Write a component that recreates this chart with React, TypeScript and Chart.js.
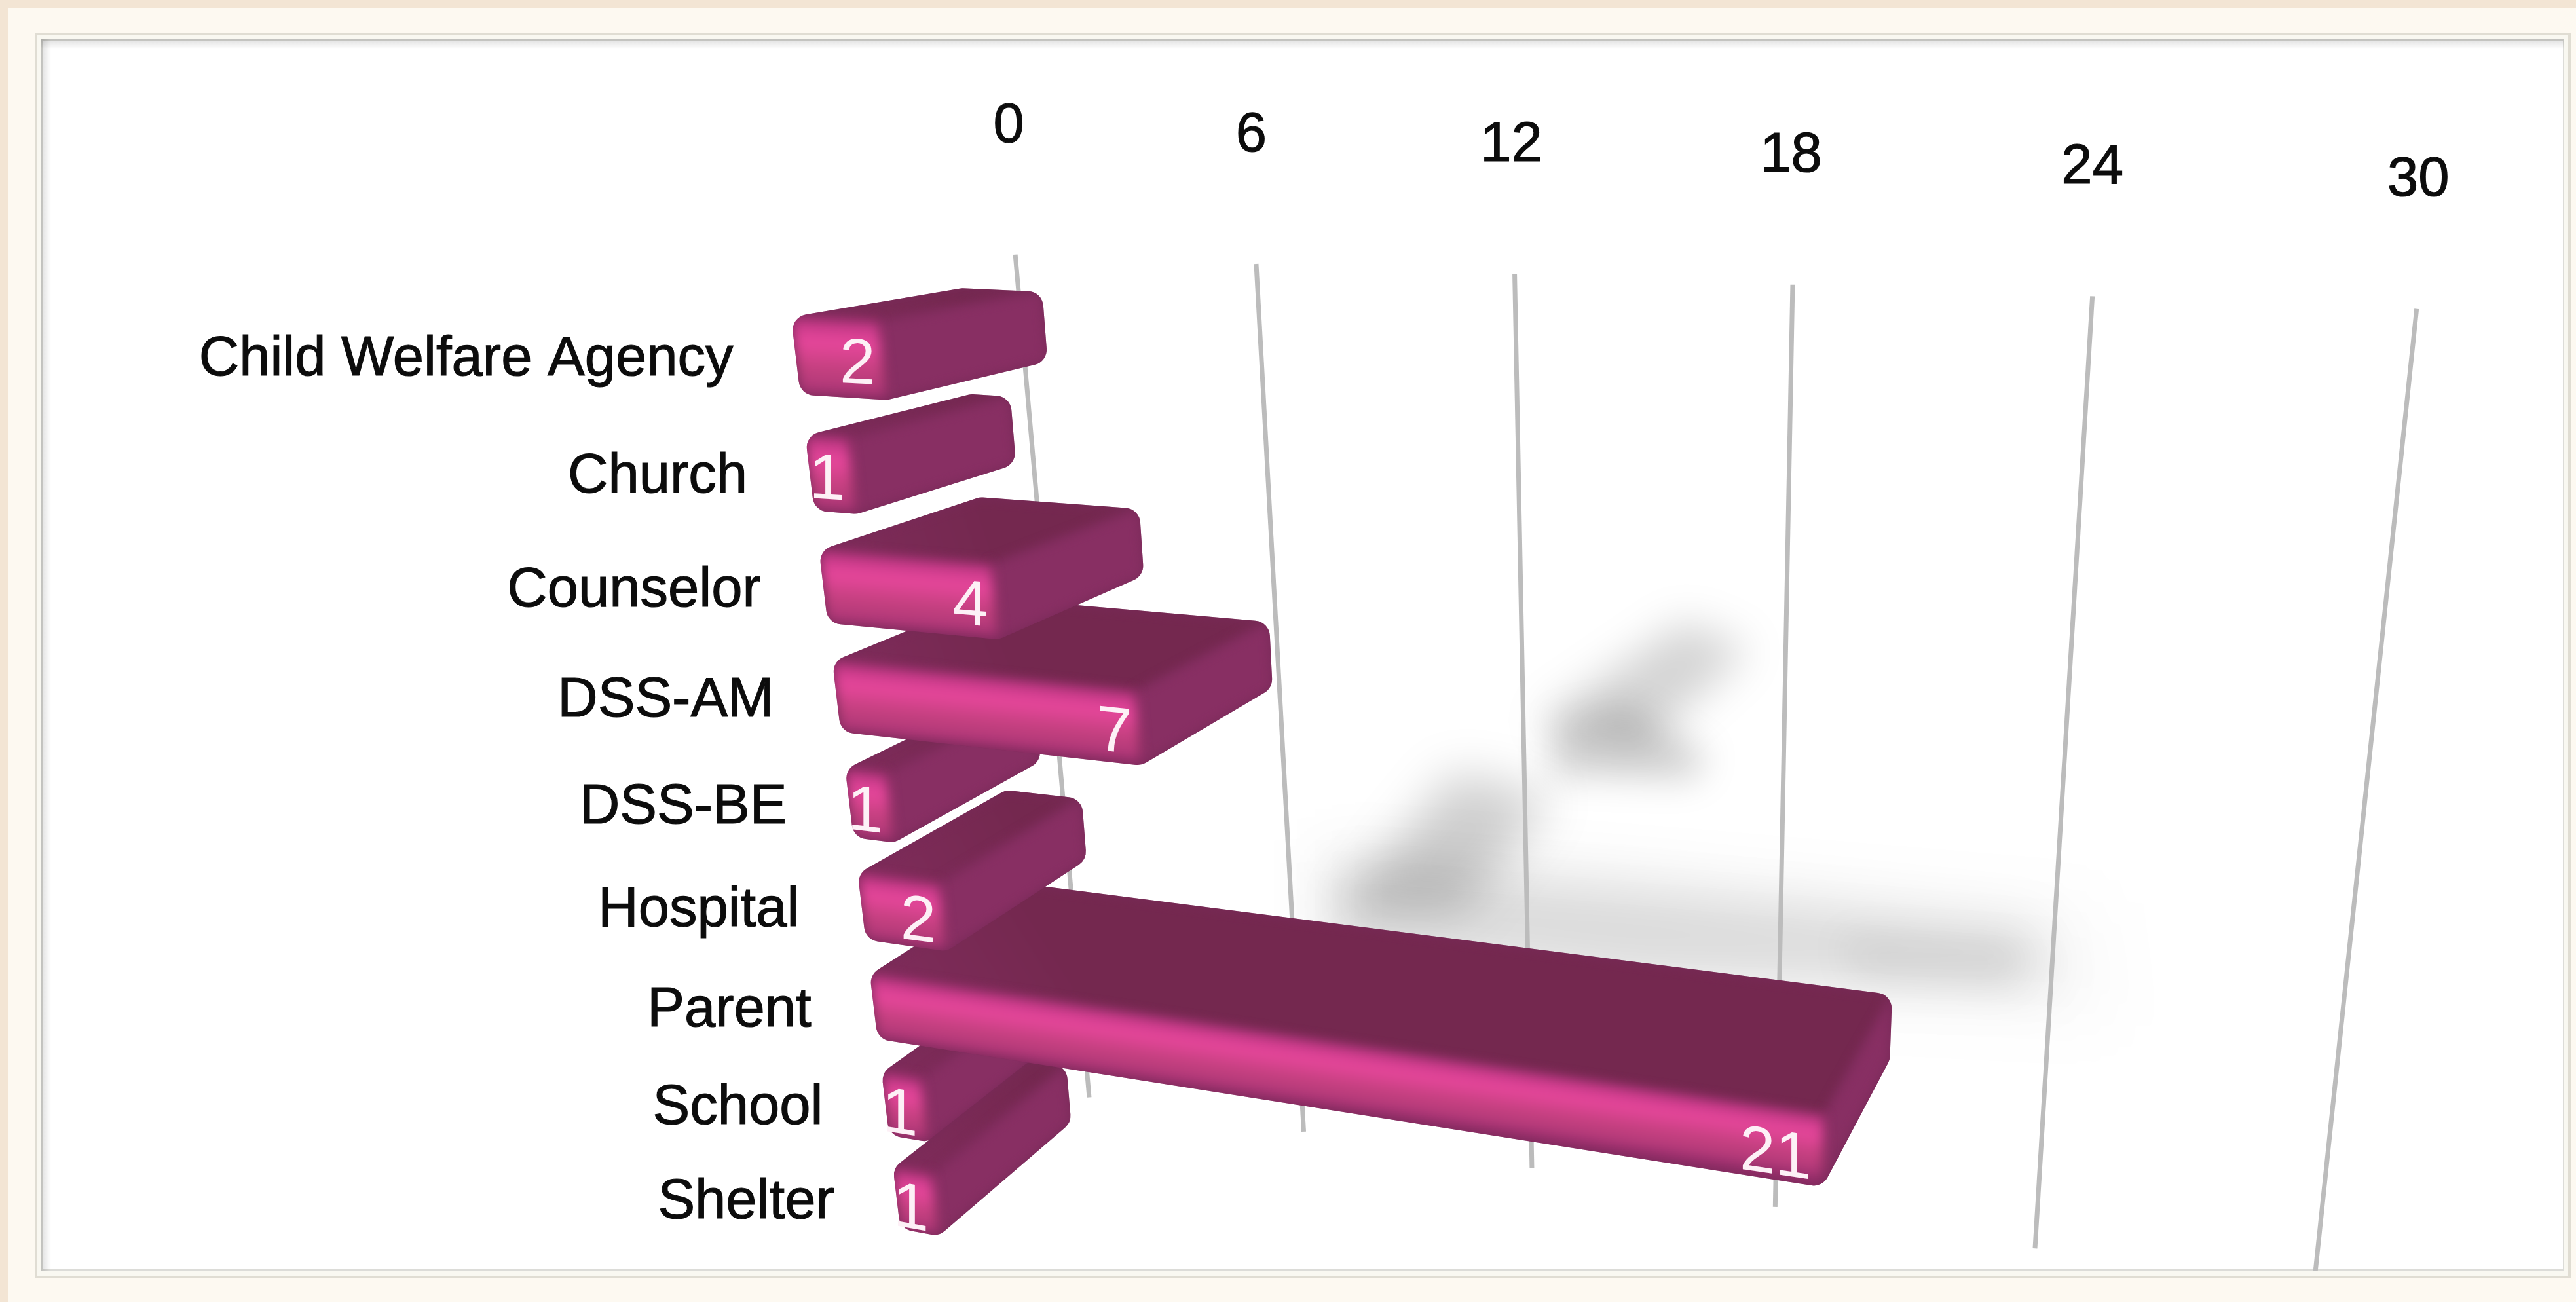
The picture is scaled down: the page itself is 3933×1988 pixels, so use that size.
import React, { useEffect, useRef } from "react";
import { Chart, registerables } from "chart.js";

Chart.register(...registerables);

const categories = ["Child Welfare Agency", "Church", "Counselor", "DSS-AM", "DSS-BE", "Hospital", "Parent", "School", "Shelter"];
const referrals = [2, 1, 4, 7, 1, 2, 21, 1, 1];
const axisMax = 30;
const axisStep = 6;
const paintOrder = [7, 8, 6, 5, 4, 3, 2, 1, 0];

const W = 3933;
const H = 1988;
const S = W / 1568;
type P = { x: number; y: number };
const pt = (x: number, y: number): P => ({ x: x * S, y: y * S });

function quadMap(p0: P, p1: P, p2: P, p3: P) {
  const dx1 = p1.x - p2.x, dx2 = p3.x - p2.x, sx = p0.x - p1.x + p2.x - p3.x;
  const dy1 = p1.y - p2.y, dy2 = p3.y - p2.y, sy = p0.y - p1.y + p2.y - p3.y;
  const den = dx1 * dy2 - dx2 * dy1;
  const g = (sx * dy2 - dx2 * sy) / den;
  const h = (dx1 * sy - sx * dy1) / den;
  const a = p1.x - p0.x + g * p1.x, b = p3.x - p0.x + h * p3.x;
  const d = p1.y - p0.y + g * p1.y, e = p3.y - p0.y + h * p3.y;
  return (u: number, w: number): P => {
    const q = g * u + h * w + 1;
    return { x: (a * u + b * w + p0.x) / q, y: (d * u + e * w + p0.y) / q };
  };
}

// Perspective of the back wall (gridlines) and of the bars' front plane
const wallMap = quadMap(pt(618, 155), pt(1471, 188), pt(1408, 787), pt(663, 668));
const frontMap = quadMap(pt(481.5, 193), pt(1122, 225), pt(1106, 851), pt(548, 748));
const depthVanish = pt(1390, 40);

function toBack(p: P): P {
  const dx = p.x / S, dy = p.y / S;
  const t = 0.115 - (0.02 * (dy - 190)) / 560 + (dx - 500) * 2.9e-5;
  return {
    x: p.x + t * (depthVanish.x - p.x) + (dx - 500) * 0.015 * S,
    y: p.y + t * (depthVanish.y - p.y),
  };
}

function poly(ctx: CanvasRenderingContext2D, pts: P[]) {
  ctx.beginPath();
  pts.forEach((p, i) => (i ? ctx.lineTo(p.x, p.y) : ctx.moveTo(p.x, p.y)));
  ctx.closePath();
}

function roundedPoly(ctx: CanvasRenderingContext2D, pts: P[], r: number) {
  const n = pts.length;
  const m = (a: P, b: P) => ({ x: (a.x + b.x) / 2, y: (a.y + b.y) / 2 });
  const s = m(pts[n - 1], pts[0]);
  ctx.beginPath();
  ctx.moveTo(s.x, s.y);
  pts.forEach((p, i) => {
    const nx = pts[(i + 1) % n];
    const mid = m(p, nx);
    ctx.arcTo(p.x, p.y, mid.x, mid.y, r);
  });
  ctx.closePath();
}

function drawFrame(ctx: CanvasRenderingContext2D) {
  ctx.fillStyle = "#f3e5d4";
  ctx.fillRect(0, 0, W, H);
  ctx.fillStyle = "#fdf9f1";
  ctx.fillRect(12, 12, W - 12, H - 12);
  ctx.fillStyle = "#e0ddd3";
  ctx.fillRect(53, 50, 3872, 1902);
  ctx.fillStyle = "#f9f8f1";
  ctx.fillRect(57, 54, 3864, 1894);
  ctx.fillStyle = "#dcdcd8";
  ctx.fillRect(63, 60, 3852, 1880);
  ctx.fillStyle = "#ffffff";
  ctx.fillRect(66, 63, 3847, 1875);
  let g = ctx.createLinearGradient(63, 0, 78, 0);
  g.addColorStop(0, "rgba(0,0,0,0.12)");
  g.addColorStop(1, "rgba(0,0,0,0)");
  ctx.fillStyle = g;
  ctx.fillRect(63, 60, 15, 1880);
  g = ctx.createLinearGradient(0, 60, 0, 75);
  g.addColorStop(0, "rgba(0,0,0,0.12)");
  g.addColorStop(1, "rgba(0,0,0,0)");
  ctx.fillStyle = g;
  ctx.fillRect(63, 60, 3852, 15);
}

function drawShadows(ctx: CanvasRenderingContext2D) {
  ctx.save();
  const blob = (pts: number[][], alpha: number, blur: number) => {
    ctx.filter = `blur(${blur}px)`;
    ctx.fillStyle = `rgba(0,0,0,${alpha})`;
    poly(ctx, pts.map(([x, y]) => pt(x, y)));
    ctx.fill();
  };
  blob([[800, 510], [1280, 550], [1290, 625], [800, 600]], 0.02, 50);
  blob([[1025, 378], [1065, 395], [1000, 455], [935, 440]], 0.17, 32);
  blob([[945, 440], [990, 430], [1040, 460], [1030, 475], [945, 472]], 0.17, 26);
  blob([[885, 470], [945, 485], [890, 555], [815, 555]], 0.19, 36);
  blob([[810, 525], [1000, 540], [1240, 565], [1250, 600], [1000, 595], [810, 575]], 0.12, 40);
  blob([[1120, 570], [1230, 575], [1225, 600], [1130, 595]], 0.06, 28);
  ctx.restore();
}

function faceGradient(ctx: CanvasRenderingContext2D, ftl: P, ftr: P, fbl: P) {
  const ex = ftr.x - ftl.x, ey = ftr.y - ftl.y;
  const len = Math.hypot(ex, ey) || 1;
  const nx = -ey / len, ny = ex / len;
  const dot = (fbl.x - ftl.x) * nx + (fbl.y - ftl.y) * ny;
  const g = ctx.createLinearGradient(ftl.x, ftl.y, ftl.x + nx * dot, ftl.y + ny * dot);
  g.addColorStop(0, "#b8347f");
  g.addColorStop(0.3, "#e8479c");
  g.addColorStop(0.65, "#c4407f");
  g.addColorStop(0.92, "#b03878");
  g.addColorStop(1, "#8f2b66");
  return g;
}

const perspectivePlugin = {
  id: "perspective3d",
  beforeDraw(chart: any) {
    drawFrame(chart.ctx);
  },
  beforeDatasetsDraw(chart: any) {
    const ctx: CanvasRenderingContext2D = chart.ctx;
    const xs = chart.scales.x;
    const meta = chart.getDatasetMeta(0);
    const els = meta.data.map((e: any) => e.getProps(["x", "y", "base", "height"], true));

    const u0 = xs.getPixelForValue(0);
    const uSpan = xs.getPixelForValue(axisMax) - u0;
    const wallTop = chart.chartArea.top;
    const wallSpan = chart.chartArea.bottom - wallTop;
    const wall = (px: number, py: number) => wallMap((px - u0) / uSpan, (py - wallTop) / wallSpan);

    const refV = Math.max(...referrals);
    const refSpan = xs.getPixelForValue(refV) - u0;
    const top0 = els[0].y - els[0].height / 2;
    const last = els[els.length - 1];
    const rowSpan = last.y + last.height / 2 - top0;
    const front = (px: number, py: number) => frontMap((px - u0) / refSpan, (py - top0) / rowSpan);

    ctx.save();
    ctx.beginPath();
    ctx.rect(63, 60, 3852, 1880);
    ctx.clip();

    drawShadows(ctx);

    const label = (text: string, x: number, y: number) => {
      ctx.fillStyle = "#0c0c0c";
      ctx.strokeStyle = "#0c0c0c";
      ctx.lineWidth = 1.2;
      ctx.strokeText(text, x, y);
      ctx.fillText(text, x, y);
    };

    // gridlines and value-axis tick labels
    ctx.font = '85px "Liberation Sans"';
    ctx.textAlign = "center";
    ctx.textBaseline = "middle";
    xs.ticks.forEach((t: any, i: number) => {
      const px = xs.getPixelForTick(i);
      const a = wall(px, wallTop);
      const b = wall(px, wallTop + wallSpan);
      ctx.strokeStyle = "#bcbcbc";
      ctx.lineWidth = 7;
      ctx.beginPath();
      ctx.moveTo(a.x, a.y);
      ctx.lineTo(b.x, b.y);
      ctx.stroke();
      const frac = (px - u0) / uSpan;
      label(String(t.label), a.x + (-4 + 5 * frac) * S, a.y - 78 * S);
    });

    // category labels
    ctx.textAlign = "right";
    els.forEach((el: any, i: number) => {
      const p = front(u0, el.y);
      label(chart.scales.y.getLabelForValue(i), p.x - 38 * S, p.y + 2.5 * S);
    });

    // bars, far to near
    paintOrder.forEach((i) => {
      const el = els[i];
      const t = el.y - el.height / 2;
      const b = el.y + el.height / 2;
      const ftl = front(el.base, t);
      const ftr = front(el.x, t);
      const fbr = front(el.x, b);
      const fbl = front(el.base, b);
      const btl = toBack(ftl);
      const btr = toBack(ftr);
      const bbr = toBack(fbr);
      const outline = [ftl, btl, btr, bbr, fbr, fbl];

      ctx.save();
      roundedPoly(ctx, outline, 24);
      ctx.fillStyle = "#782a58";
      ctx.fill();
      ctx.clip();

      ctx.filter = "blur(9px)";
      poly(ctx, [ftl, btl, btr, ftr]);
      const gt = ctx.createLinearGradient(btl.x, btl.y, ftl.x, ftl.y);
      gt.addColorStop(0, "#74284f");
      gt.addColorStop(1, "#7f2c5b");
      ctx.fillStyle = gt;
      ctx.fill();

      poly(ctx, [ftr, btr, bbr, fbr]);
      ctx.fillStyle = "#882f63";
      ctx.fill();

      poly(ctx, [ftl, ftr, fbr, fbl]);
      ctx.fillStyle = faceGradient(ctx, ftl, ftr, fbl);
      ctx.fill();
      ctx.filter = "none";
      ctx.restore();

      // value label on the front face
      const text = String(referrals[i]);
      const slope = (ftr.y - ftl.y) / (ftr.x - ftl.x || 1);
      ctx.font = '98px "Liberation Sans"';
      const tw = ctx.measureText(text).width;
      const lx = ftr.x - (2 + (text.length - 1) * 6) * S - tw / 2;
      const ly = (ftr.y + fbr.y) / 2 + 3 * S;
      ctx.save();
      ctx.transform(1, slope, 0, 1, lx, ly);
      ctx.textAlign = "center";
      ctx.textBaseline = "middle";
      ctx.fillStyle = "#fdf0f6";
      ctx.fillText(text, 0, 0);
      ctx.restore();
      ctx.font = '85px "Liberation Sans"';
    });

    ctx.restore();
    return false;
  },
};

export default function App() {
  const ref = useRef<HTMLCanvasElement | null>(null);
  useEffect(() => {
    document.body.style.margin = "0";
    const chart = new Chart(ref.current as HTMLCanvasElement, {
      type: "bar",
      data: {
        labels: categories,
        datasets: [
          {
            label: "Referrals",
            data: referrals,
            backgroundColor: "#c4407f",
            barPercentage: 0.65,
            categoryPercentage: 1,
          },
        ],
      },
      options: {
        indexAxis: "y",
        animation: false,
        responsive: false,
        devicePixelRatio: 1,
        layout: { padding: { left: 1500, right: 240, top: 400, bottom: 200 } },
        plugins: { legend: { display: false }, title: { display: false }, tooltip: { enabled: false } },
        scales: {
          x: { display: false, position: "top", min: 0, max: axisMax, ticks: { stepSize: axisStep } },
          y: { display: false },
        },
      },
      plugins: [perspectivePlugin],
    } as any);
    return () => chart.destroy();
  }, []);
  return (
    <div style={{ position: "fixed", left: 0, top: 0, width: W, height: H, overflow: "hidden" }}>
      <canvas ref={ref} width={W} height={H} style={{ display: "block", width: W, height: H }} />
    </div>
  );
}
